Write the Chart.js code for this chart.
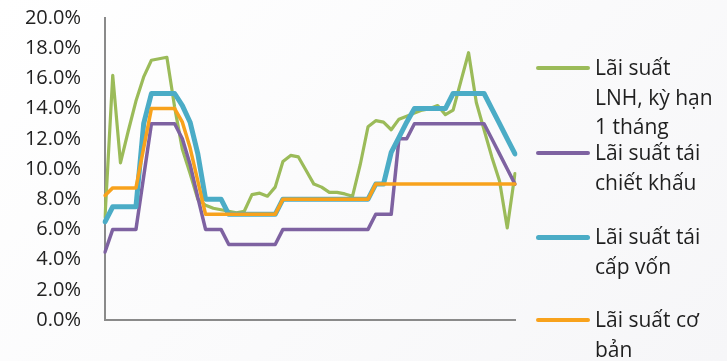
<!DOCTYPE html>
<html>
<head>
<meta charset="utf-8">
<script src="https://cdn.jsdelivr.net/npm/chart.js@4.4.1/dist/chart.umd.min.js"></script>
<style>
  html, body { margin: 0; padding: 0; }
  body {
    width: 727px; height: 361px; overflow: hidden;
    background: linear-gradient(135deg, #ffffff 0%, #f6f6f8 100%);
    font-family: "Open Sans", sans-serif;
  }
  #wrap { position: relative; width: 727px; height: 361px; }
  #chart { position: absolute; left: 0; top: 0; }
  .legend-item { position: absolute; left: 536px; }
  .legend-item .swatch { position: absolute; left: 0; width: 54px; border-radius: 3px; }
  .legend-item .text {
    position: absolute; left: 59px; top: 0;
    font-size: 21px; line-height: 29.5px; color: #1f1f1f; white-space: nowrap;
  }
</style>
</head>
<body>
<div id="wrap">
  <canvas id="chart" width="727" height="361"></canvas>
</div>
<script>
// months T1/2008 .. T6/2012
const categories = [
  "1/2008","2/2008","3/2008","4/2008","5/2008","6/2008","7/2008","8/2008","9/2008","10/2008","11/2008","12/2008",
  "1/2009","2/2009","3/2009","4/2009","5/2009","6/2009","7/2009","8/2009","9/2009","10/2009","11/2009","12/2009",
  "1/2010","2/2010","3/2010","4/2010","5/2010","6/2010","7/2010","8/2010","9/2010","10/2010","11/2010","12/2010",
  "1/2011","2/2011","3/2011","4/2011","5/2011","6/2011","7/2011","8/2011","9/2011","10/2011","11/2011","12/2011",
  "1/2012","2/2012","3/2012","4/2012","5/2012","6/2012"
];

const interbank1m = [
  6.8, 16.2, 10.4, 12.5, 14.5, 16.1, 17.2, 17.3, 17.4, 14.1, 11.3, 9.7,
  8.0, 7.6, 7.4, 7.3, 7.2, 7.1, 7.2, 8.3, 8.4, 8.2, 8.8, 10.5,
  10.9, 10.8, 9.9, 9.0, 8.8, 8.45, 8.45, 8.35, 8.2, 10.3, 12.8, 13.2,
  13.1, 12.6, 13.3, 13.5, 13.7, 13.9, 14.0, 14.2, 13.6, 13.9, 15.8, 17.7,
  14.4, 12.6, 10.8, 9.2, 6.1, 9.7
];

const discountRate = [
  4.5, 6, 6, 6, 6, 9.5, 13, 13, 13, 13, 12, 10.3,
  8.1, 6, 6, 6, 5, 5, 5, 5, 5, 5, 5, 6,
  6, 6, 6, 6, 6, 6, 6, 6, 6, 6, 6, 7,
  7, 7, 12, 12, 13, 13, 13, 13, 13, 13, 13, 13,
  13, 13, 12, 11, 10, 9
];

const refinanceRate = [
  6.5, 7.5, 7.5, 7.5, 7.5, 13, 15, 15, 15, 15, 14.2, 13.1,
  11.0, 8, 8, 8, 7, 7, 7, 7, 7, 7, 7, 8,
  8, 8, 8, 8, 8, 8, 8, 8, 8, 8, 8, 9,
  9, 11.1, 12.1, 13.1, 14, 14, 14, 14, 14, 15, 15, 15,
  15, 15, 14, 13, 12, 11
];

const baseRate = [
  8.25, 8.75, 8.75, 8.75, 8.75, 11.4, 14, 14, 14, 14, 13.1, 11.4,
  9.2, 7, 7, 7, 7, 7, 7, 7, 7, 7, 7, 8,
  8, 8, 8, 8, 8, 8, 8, 8, 8, 8, 8, 9,
  9, 9, 9, 9, 9, 9, 9, 9, 9, 9, 9, 9,
  9, 9, 9, 9, 9, 9
];

const seriesNames = [
  ["Lãi suất", "LNH, kỳ hạn", "1 tháng"],
  ["Lãi suất tái", "chiết khấu"],
  ["Lãi suất tái", "cấp vốn"],
  ["Lãi suất cơ", "bản"]
];
const seriesValues = [interbank1m, discountRate, refinanceRate, baseRate];
const seriesColors = ["#9BBB59", "#7E62A1", "#4BACC6", "#F8A21C"];
const seriesWidths = [3.2, 3.5, 5, 3.5];

// centre of the first text line of each legend entry
const legendTops = [68, 153, 237, 320];

const ctx = document.getElementById("chart").getContext("2d");

const chart = new Chart(ctx, {
  type: "line",
  data: {
    labels: categories,
    datasets: seriesValues.map((vals, i) => ({
      label: seriesNames[i].join(" "),
      data: vals,
      borderColor: seriesColors[i],
      backgroundColor: seriesColors[i],
      borderWidth: seriesWidths[i],
      pointRadius: 0,
      tension: 0,
      fill: false,
      borderCapStyle: "round",
      borderJoinStyle: "round",
      order: seriesValues.length - i
    }))
  },
  options: {
    responsive: false,
    animation: false,
    devicePixelRatio: 1,
    layout: { padding: { top: 18, bottom: 41, left: 0, right: 212 } },
    plugins: {
      legend: { display: false },
      tooltip: { enabled: false }
    },
    scales: {
      x: {
        ticks: { display: false },
        grid: { display: false, drawTicks: false },
        border: { display: true, color: "#8a8a8a", width: 2 }
      },
      y: {
        min: 0,
        max: 20,
        afterFit: (scale) => {
          scale.width = 105;
          // tick padding is meant horizontally only
          scale.paddingTop = 0;
          scale.paddingBottom = 0;
        },
        ticks: {
          stepSize: 2,
          padding: 24,
          color: "#222",
          font: { family: "'Open Sans', sans-serif", size: 20 },
          callback: (v) => v.toFixed(1) + "%"
        },
        grid: { display: false, drawTicks: false },
        border: { display: true, color: "#8a8a8a", width: 2 }
      }
    }
  }
});

// legend with wrapped labels, built from the chart's datasets
const wrap = document.getElementById("wrap");
chart.data.datasets.forEach((ds, i) => {
  const item = document.createElement("div");
  item.className = "legend-item";
  item.style.top = (legendTops[i] - 14.75) + "px";
  const sw = document.createElement("div");
  sw.className = "swatch";
  sw.style.background = ds.borderColor;
  sw.style.height = ds.borderWidth + "px";
  sw.style.top = (14.75 - ds.borderWidth / 2) + "px";
  const txt = document.createElement("div");
  txt.className = "text";
  txt.innerHTML = seriesNames[i].join("<br>");
  item.appendChild(sw);
  item.appendChild(txt);
  wrap.appendChild(item);
});
</script>
</body>
</html>
